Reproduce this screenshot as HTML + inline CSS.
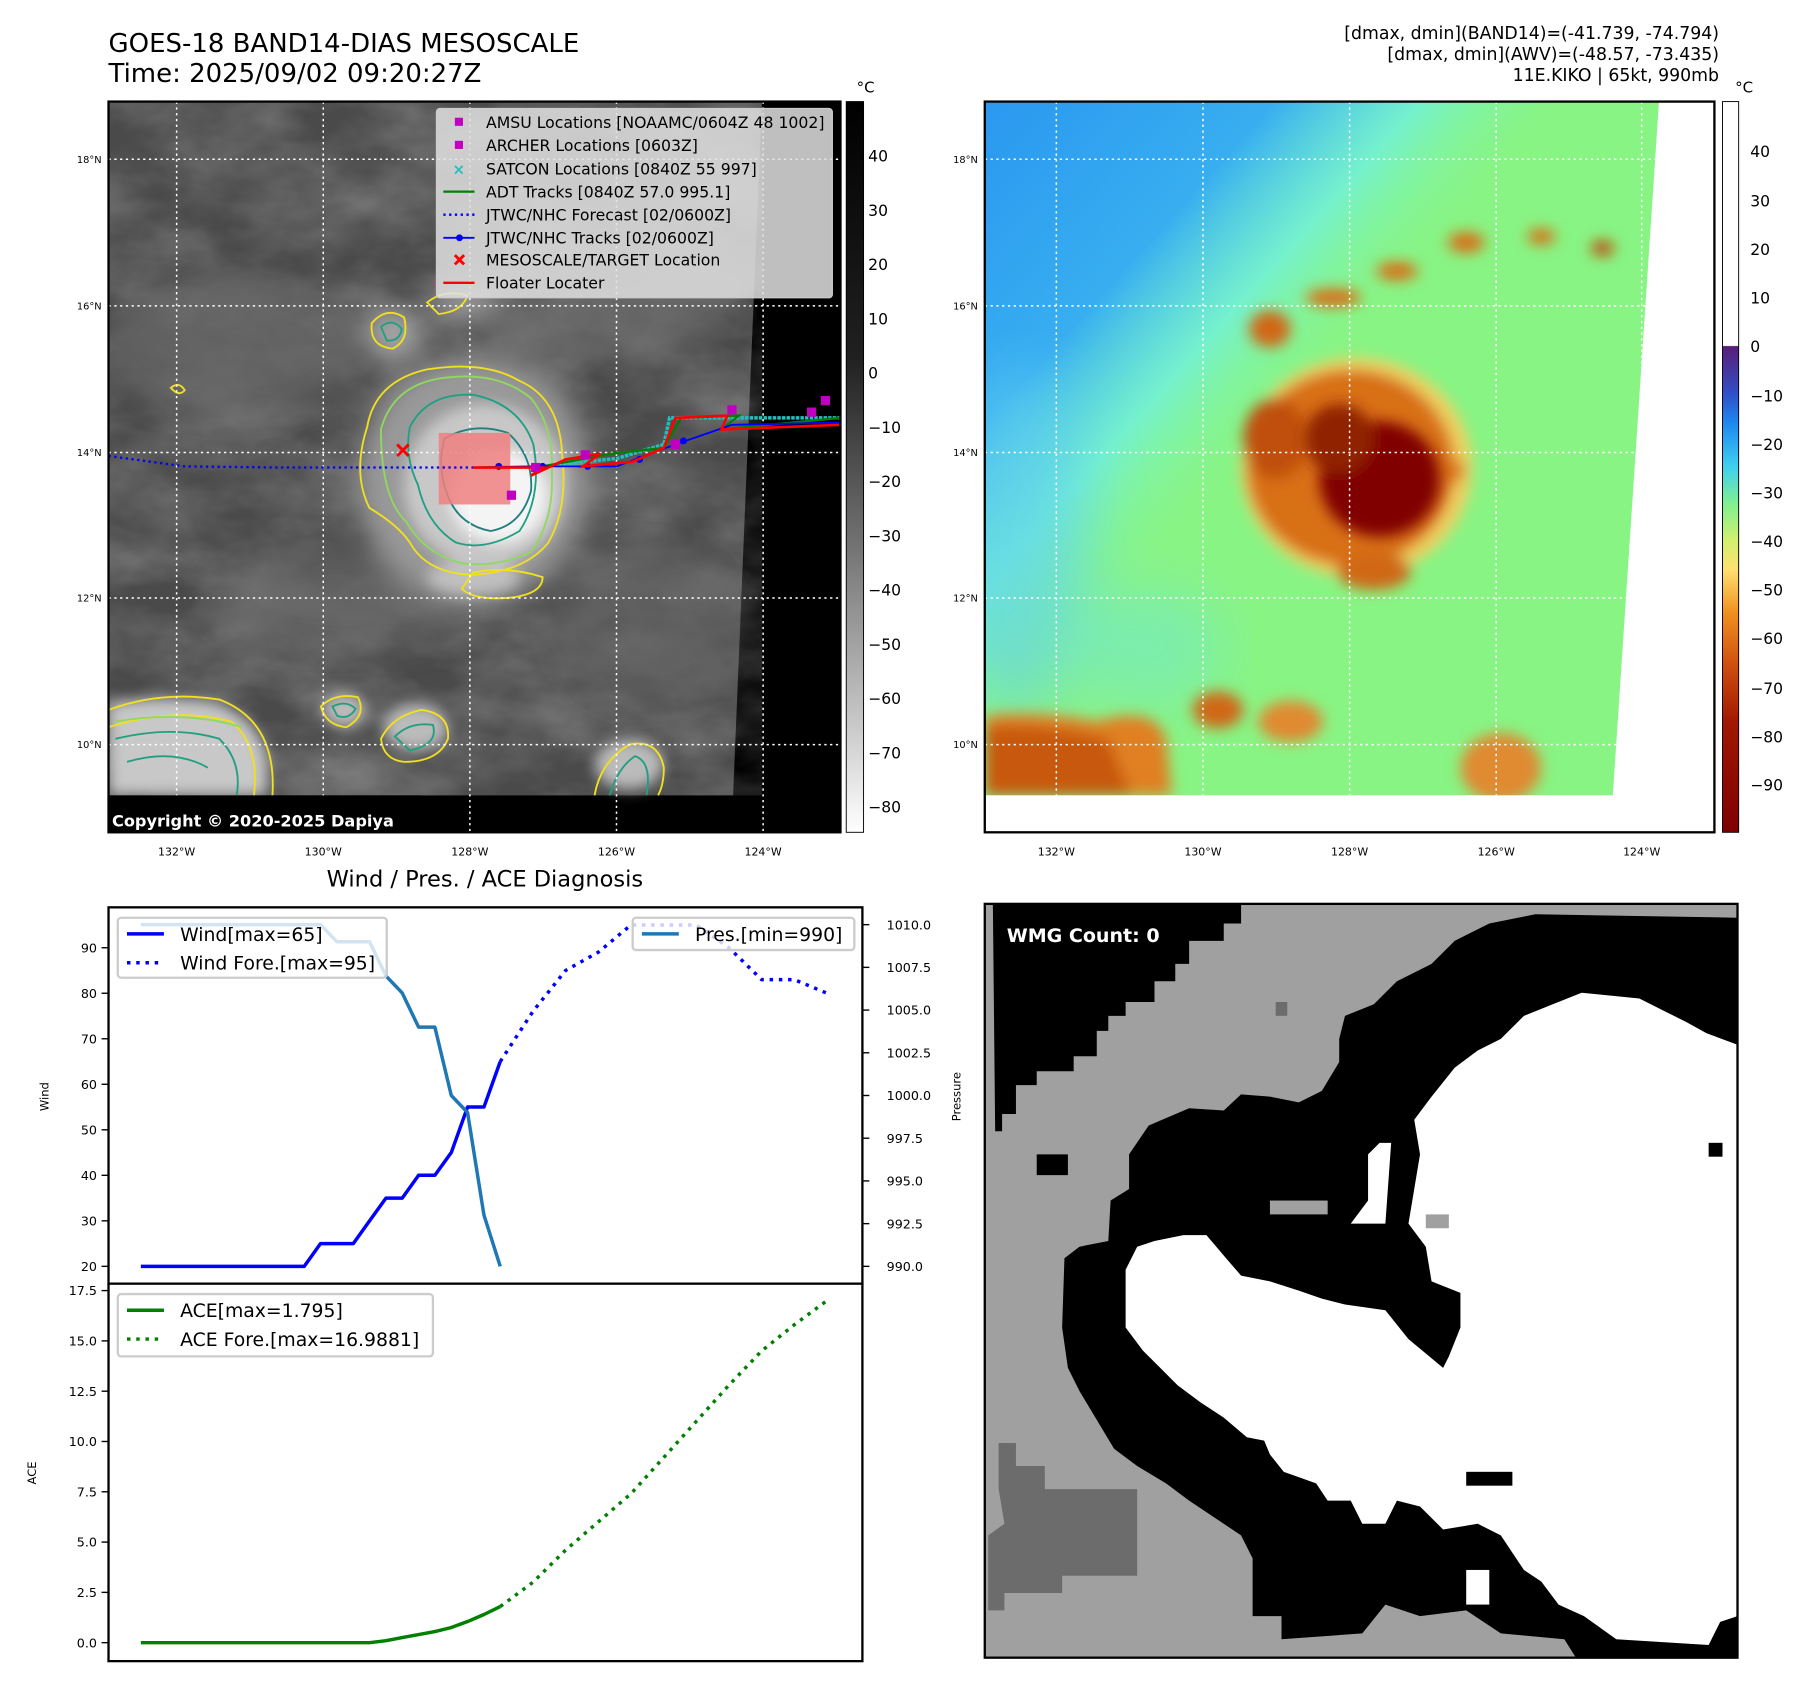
<!DOCTYPE html>
<html><head><meta charset="utf-8"><title>GOES-18 BAND14 Mesoscale</title>
<style>
html,body{margin:0;padding:0;background:#fff;}
svg{display:block;font-family:"DejaVu Sans","Liberation Sans",sans-serif;}
</style></head>
<body>
<svg id="root" width="1801" height="1690" viewBox="0 0 1560 1464" preserveAspectRatio="none" xmlns="http://www.w3.org/2000/svg">
<defs>
  <filter id="blur6"><feGaussianBlur stdDeviation="6"/></filter>
  <filter id="blur12"><feGaussianBlur stdDeviation="12"/></filter>
  <filter id="blur25"><feGaussianBlur stdDeviation="25"/></filter>
  <filter id="noise" x="0" y="0" width="100%" height="100%">
    <feTurbulence type="fractalNoise" baseFrequency="0.012 0.02" numOctaves="4" seed="7"/>
    <feColorMatrix type="matrix" values="0 0 0 0 0.75  0 0 0 0 0.75  0 0 0 0 0.75  0.9 0 0 0 -0.25"/>
  </filter>
  <clipPath id="clip1"><rect x="94" y="88" width="634" height="633"/></clipPath>
  <clipPath id="clip2"><polygon points="853,88 1437,88 1397,689 853,689"/></clipPath>
  <clipPath id="clipW"><rect x="853" y="783" width="652" height="653"/></clipPath>
  <linearGradient id="cbGray" x1="0" y1="0" x2="0" y2="1">
    <stop offset="0" stop-color="#000"/><stop offset="0.35" stop-color="#202020"/>
    <stop offset="0.6" stop-color="#707070"/><stop offset="0.85" stop-color="#c8c8c8"/><stop offset="1" stop-color="#fff"/>
  </linearGradient>
  <linearGradient id="cbJet" x1="0" y1="0" x2="0" y2="1">
    <stop offset="0" stop-color="#fff"/><stop offset="0.334" stop-color="#fff"/>
    <stop offset="0.335" stop-color="#5a1e78"/><stop offset="0.4" stop-color="#3050c8"/>
    <stop offset="0.44" stop-color="#1e88f0"/><stop offset="0.5" stop-color="#40d0f0"/>
    <stop offset="0.55" stop-color="#80f090"/><stop offset="0.6" stop-color="#d0f070"/>
    <stop offset="0.64" stop-color="#ffe070"/><stop offset="0.7" stop-color="#f09020"/>
    <stop offset="0.77" stop-color="#d05010"/><stop offset="0.85" stop-color="#a01800"/>
    <stop offset="1" stop-color="#800000"/>
  </linearGradient>
  <linearGradient id="skyBlue" x1="0" y1="0" x2="1" y2="0.9">
    <stop offset="0" stop-color="#2a98f0"/><stop offset="0.22" stop-color="#38aef0"/>
    <stop offset="0.33" stop-color="#70f0e0" stop-opacity="0.8"/><stop offset="0.45" stop-color="#88f888" stop-opacity="0"/>
  </linearGradient>
</defs>

<!-- titles -->
<text x="94" y="45" font-size="22.5">GOES-18 BAND14-DIAS MESOSCALE</text>
<text x="94" y="71" font-size="22.5">Time: 2025/09/02 09:20:27Z</text>
<text x="1489" y="34" font-size="15" text-anchor="end">[dmax, dmin](BAND14)=(-41.739, -74.794)</text>
<text x="1489" y="52" font-size="15" text-anchor="end">[dmax, dmin](AWV)=(-48.57, -73.435)</text>
<text x="1489" y="70" font-size="15" text-anchor="end">11E.KIKO | 65kt, 990mb</text>

<!-- MAP 1 -->
<g>
  <g clip-path="url(#clip1)">
    <rect x="94" y="88" width="634" height="633" fill="#000"/>
    <polygon points="94,88 660,88 635,689 94,689" fill="#4a4a4a"/>
    <g clip-path="url(#clip1)">
      <polygon points="94,88 660,88 635,689 94,689" fill="#000" filter="url(#noise)" opacity="0.55"/>
    </g>
    <g filter="url(#blur12)">
      <ellipse cx="200" cy="300" rx="110" ry="60" fill="#6a6a6a" opacity="0.7"/>
      <ellipse cx="520" cy="250" rx="120" ry="60" fill="#707070" opacity="0.6"/>
      <ellipse cx="300" cy="520" rx="120" ry="45" fill="#6a6a6a" opacity="0.6"/>
      <ellipse cx="560" cy="540" rx="80" ry="70" fill="#666" opacity="0.6"/>
      <ellipse cx="410" cy="415" rx="100" ry="108" fill="#9a9a9a"/>
      <ellipse cx="340" cy="290" rx="22" ry="22" fill="#aaa"/>
      <ellipse cx="400" cy="262" rx="30" ry="10" fill="#aaa"/>
    </g>
    <g filter="url(#blur6)">
      <ellipse cx="420" cy="420" rx="70" ry="70" fill="#c8c8c8"/>
      <ellipse cx="432" cy="430" rx="42" ry="40" fill="#f4f4f4"/>
      <ellipse cx="410" cy="500" rx="40" ry="15" fill="#c0c0c0"/>
      <path d="M94,610 Q140,600 190,610 Q240,630 230,689 L94,689 Z" fill="#c8c8c8"/>
      <ellipse cx="360" cy="630" rx="28" ry="20" fill="#bbb"/>
      <ellipse cx="298" cy="615" rx="18" ry="15" fill="#bbb"/>
      <ellipse cx="545" cy="662" rx="30" ry="22" fill="#bbb"/>
    </g>
    <g fill="none" stroke-width="1.6">
      <path d="M318,370 Q325,330 370,320 Q420,312 450,330 Q485,345 487,395 Q492,440 475,470 Q455,495 410,498 Q370,497 355,470 Q345,455 320,440 Q305,410 318,370 Z" stroke="#f0e020"/>
      <path d="M330,372 Q340,335 380,328 Q430,320 460,345 Q480,370 478,410 Q480,450 460,478 Q430,492 400,488 Q368,480 352,452 Q330,432 330,372 Z" stroke="#90d860"/>
      <path d="M355,370 Q370,340 410,342 Q450,350 462,385 Q470,430 450,460 Q420,478 395,470 Q370,455 362,420 Q350,395 355,370 Z" stroke="#20a080"/>
      <path d="M385,380 Q410,365 440,375 Q462,395 460,425 Q452,455 425,460 Q398,455 388,430 Q378,405 385,380 Z" stroke="#208080"/>
      <path d="M410,496 Q440,490 470,500 Q470,515 440,518 Q410,520 400,510 Z" stroke="#f0e020"/>
      <path d="M322,280 Q335,265 350,275 Q355,295 340,302 Q320,300 322,280 Z" stroke="#f0e020"/>
      <path d="M330,283 Q340,275 348,285 Q346,296 335,295 Z" stroke="#20a080"/>
      <path d="M370,262 Q385,250 405,256 Q400,270 380,272 Z" stroke="#f0e020"/>
      <path d="M94,615 Q140,598 190,606 Q240,625 236,689 M94,630 Q150,612 200,625 Q225,645 220,689" stroke="#f0e020"/>
      <path d="M100,640 Q150,628 190,640 Q210,660 205,689 M110,660 Q150,648 180,665" stroke="#20a080"/>
      <path d="M100,625 Q160,615 210,630" stroke="#90d860"/>
      <path d="M330,640 Q340,620 365,615 Q390,618 388,640 Q380,660 350,660 Q332,658 330,640 Z" stroke="#f0e020"/>
      <path d="M342,638 Q355,625 375,628 Q380,645 355,650 Z" stroke="#20a080"/>
      <path d="M278,612 Q290,600 310,604 Q318,620 300,630 Q282,628 278,612 Z" stroke="#f0e020"/>
      <path d="M288,612 Q300,606 308,614 Q302,624 292,620 Z" stroke="#20a080"/>
      <path d="M515,689 Q520,660 545,645 Q570,640 575,665 Q575,680 570,689" stroke="#f0e020"/>
      <path d="M528,689 Q535,665 550,655 Q565,660 560,689" stroke="#20a080"/>
      <path d="M148,336 Q155,330 160,338 Q155,344 148,336 Z" stroke="#f0e020"/>
    </g>
    <g stroke="#fff" stroke-width="1.3" stroke-dasharray="2,3">
      <line x1="153" y1="88" x2="153" y2="721"/><line x1="280" y1="88" x2="280" y2="721"/>
      <line x1="407" y1="88" x2="407" y2="721"/><line x1="534" y1="88" x2="534" y2="721"/>
      <line x1="661" y1="88" x2="661" y2="721"/>
      <line x1="94" y1="138" x2="728" y2="138"/><line x1="94" y1="265" x2="728" y2="265"/>
      <line x1="94" y1="392" x2="728" y2="392"/><line x1="94" y1="518" x2="728" y2="518"/>
      <line x1="94" y1="645" x2="728" y2="645"/>
    </g>
    <rect x="380" y="375" width="62" height="62" fill="#f08080" opacity="0.85"/>
    <polyline points="94,395 160,404 240,405 330,405 410,405" fill="none" stroke="#0000ff" stroke-width="2" stroke-dasharray="2,3"/>
    <polyline points="470,404 535,397 575,385 580,362 640,362 728,362" fill="none" stroke="#20c0c0" stroke-width="3" stroke-dasharray="3,1"/>
    <polyline points="410,405 470,404 530,393 575,388 590,362 640,360 625,372 728,362" fill="none" stroke="#008000" stroke-width="2"/>
    <polyline points="410,405 470,404 534,404 585,385 634,368 728,366" fill="none" stroke="#0000ff" stroke-width="1.6"/>
    <g fill="#0000ff"><circle cx="432" cy="404" r="3"/><circle cx="470" cy="404" r="3"/><circle cx="509" cy="404" r="3"/><circle cx="554" cy="398" r="3"/><circle cx="592" cy="382" r="3"/></g>
    <polyline points="410,405 470,405 460,412 490,398 520,393 505,404 548,400 575,388 585,362 630,360 625,372 728,368" fill="none" stroke="#ff0000" stroke-width="2.3"/>
    <g fill="#c000c0"><rect x="439" y="425" width="8" height="8"/><rect x="630" y="351" width="8" height="8"/><rect x="711" y="343" width="8" height="8"/><rect x="699" y="353" width="8" height="8"/><rect x="503" y="390" width="8" height="8"/><rect x="581" y="381" width="8" height="8"/><rect x="460" y="401" width="8" height="8"/></g>
    <g stroke="#ff0000" stroke-width="2.5"><line x1="344" y1="385" x2="354" y2="395"/><line x1="354" y1="385" x2="344" y2="395"/></g>
    <rect x="94" y="689" width="270" height="32" fill="#000"/>
  </g>
  <rect x="94" y="88" width="634" height="633" fill="none" stroke="#000" stroke-width="2"/>
  <text x="97" y="716" font-size="14" font-weight="bold" fill="#fff">Copyright © 2020-2025 Dapiya</text>
  <g>
    <rect x="378" y="94" width="343" height="164" rx="3" fill="#e0e0e0" fill-opacity="0.85" stroke="#ccc"/>
    <rect x="394" y="102" width="7" height="7" fill="#c000c0"/>
    <text x="421" y="111" font-size="13.6">AMSU Locations [NOAAMC/0604Z 48 1002]</text>
    <rect x="394" y="122" width="7" height="7" fill="#c000c0"/>
    <text x="421" y="131" font-size="13.6">ARCHER Locations [0603Z]</text>
    <text x="392" y="151" font-size="13" fill="#20c0c0" font-weight="bold">×</text>
    <text x="421" y="151" font-size="13.6">SATCON Locations [0840Z 55 997]</text>
    <line x1="384" y1="166" x2="411" y2="166" stroke="#008000" stroke-width="2"/>
    <text x="421" y="171" font-size="13.6">ADT Tracks [0840Z 57.0 995.1]</text>
    <line x1="384" y1="186" x2="411" y2="186" stroke="#0000ff" stroke-width="2" stroke-dasharray="2,3"/>
    <text x="421" y="191" font-size="13.6">JTWC/NHC Forecast [02/0600Z]</text>
    <line x1="384" y1="206" x2="411" y2="206" stroke="#0000ff" stroke-width="1.6"/><circle cx="398" cy="206" r="3" fill="#0000ff"/>
    <text x="421" y="211" font-size="13.6">JTWC/NHC Tracks [02/0600Z]</text>
    <g stroke="#ff0000" stroke-width="2.5"><line x1="394" y1="221" x2="402" y2="229"/><line x1="402" y1="221" x2="394" y2="229"/></g>
    <text x="421" y="230" font-size="13.6">MESOSCALE/TARGET Location</text>
    <line x1="384" y1="245" x2="411" y2="245" stroke="#ff0000" stroke-width="2"/>
    <text x="421" y="250" font-size="13.6">Floater Locater</text>
  </g>
  <rect x="733" y="88" width="15" height="633" fill="url(#cbGray)" stroke="#000" stroke-width="0.8"/>
  <text x="742" y="80" font-size="13">°C</text>
  <g font-size="13.5">
    <text x="752" y="140">40</text><text x="752" y="187">30</text><text x="752" y="234">20</text><text x="752" y="281">10</text>
    <text x="752" y="328">0</text><text x="752" y="375">−10</text><text x="752" y="422">−20</text><text x="752" y="469">−30</text>
    <text x="752" y="516">−40</text><text x="752" y="563">−50</text><text x="752" y="610">−60</text><text x="752" y="657">−70</text><text x="752" y="704">−80</text>
  </g>
  <g font-size="8.5" text-anchor="end">
    <text x="88" y="141">18°N</text><text x="88" y="268">16°N</text><text x="88" y="395">14°N</text><text x="88" y="521">12°N</text><text x="88" y="648">10°N</text>
  </g>
  <g font-size="9.5" text-anchor="middle">
    <text x="153" y="741">132°W</text><text x="280" y="741">130°W</text><text x="407" y="741">128°W</text><text x="534" y="741">126°W</text><text x="661" y="741">124°W</text>
  </g>
</g>

<!-- MAP 2 -->
<g>
  <rect x="853" y="88" width="632" height="633" fill="#fff"/>
  <g clip-path="url(#clip2)">
    <rect x="853" y="88" width="632" height="633" fill="#88f484"/>
    <rect x="853" y="88" width="632" height="633" fill="url(#skyBlue)"/>
    <g filter="url(#blur25)">
      <ellipse cx="880" cy="470" rx="60" ry="150" fill="#60d0f0" opacity="0.6"/>
      <ellipse cx="990" cy="560" rx="70" ry="50" fill="#70e8d8" opacity="0.5"/>
    </g>
    <g filter="url(#blur6)">
      <ellipse cx="1175" cy="405" rx="100" ry="95" fill="#f0d060"/>
      <ellipse cx="1170" cy="405" rx="90" ry="85" fill="#d87018"/>
      <ellipse cx="1105" cy="380" rx="28" ry="35" fill="#c05010"/>
      <ellipse cx="1190" cy="495" rx="32" ry="16" fill="#d06818"/>
      <ellipse cx="1100" cy="285" rx="18" ry="16" fill="#d06818"/>
      <ellipse cx="1155" cy="258" rx="24" ry="8" fill="#d87018"/>
      <ellipse cx="1210" cy="235" rx="18" ry="8" fill="#d87018"/>
      <ellipse cx="1270" cy="210" rx="16" ry="9" fill="#d87018"/>
      <ellipse cx="1335" cy="205" rx="12" ry="7" fill="#d87018"/>
      <ellipse cx="1388" cy="215" rx="10" ry="7" fill="#c05010"/>
      <ellipse cx="1260" cy="408" rx="8" ry="10" fill="#d87018"/>
      <path d="M853,620 Q900,615 950,625 Q1000,610 1010,640 L1015,689 L853,689 Z" fill="#e08020"/>
      <path d="M853,630 Q900,625 960,640 L980,689 L853,689 Z" fill="#c85810"/>
      <ellipse cx="1055" cy="615" rx="22" ry="16" fill="#d06818"/>
      <ellipse cx="1118" cy="625" rx="28" ry="18" fill="#e08a30"/>
      <ellipse cx="1300" cy="665" rx="35" ry="30" fill="#e08a30"/>
    </g>
    <g filter="url(#blur6)"><ellipse cx="1195" cy="415" rx="52" ry="50" fill="#800000"/><ellipse cx="1160" cy="380" rx="30" ry="30" fill="#902000"/></g>
    <g stroke="#fff" stroke-width="1.3" stroke-dasharray="2,3">
      <line x1="915" y1="88" x2="915" y2="721"/><line x1="1042" y1="88" x2="1042" y2="721"/>
      <line x1="1169" y1="88" x2="1169" y2="721"/><line x1="1296" y1="88" x2="1296" y2="721"/>
      <line x1="1422" y1="88" x2="1422" y2="721"/>
      <line x1="853" y1="138" x2="1485" y2="138"/><line x1="853" y1="265" x2="1485" y2="265"/>
      <line x1="853" y1="392" x2="1485" y2="392"/><line x1="853" y1="518" x2="1485" y2="518"/>
      <line x1="853" y1="645" x2="1485" y2="645"/>
    </g>
  </g>
  <rect x="853" y="88" width="632" height="633" fill="none" stroke="#000" stroke-width="2"/>
  <rect x="1492" y="88" width="14" height="633" fill="url(#cbJet)" stroke="#000" stroke-width="0.8"/>
  <text x="1503" y="80" font-size="13">°C</text>
  <g font-size="13.5">
    <text x="1516" y="136">40</text><text x="1516" y="179">30</text><text x="1516" y="221">20</text><text x="1516" y="263">10</text>
    <text x="1516" y="305">0</text><text x="1516" y="348">−10</text><text x="1516" y="390">−20</text><text x="1516" y="432">−30</text>
    <text x="1516" y="474">−40</text><text x="1516" y="516">−50</text><text x="1516" y="558">−60</text><text x="1516" y="601">−70</text>
    <text x="1516" y="643">−80</text><text x="1516" y="685">−90</text>
  </g>
  <g font-size="8.5" text-anchor="end">
    <text x="847" y="141">18°N</text><text x="847" y="268">16°N</text><text x="847" y="395">14°N</text><text x="847" y="521">12°N</text><text x="847" y="648">10°N</text>
  </g>
  <g font-size="9.5" text-anchor="middle">
    <text x="915" y="741">132°W</text><text x="1042" y="741">130°W</text><text x="1169" y="741">128°W</text><text x="1296" y="741">126°W</text><text x="1422" y="741">124°W</text>
  </g>
</g>

<!-- CHARTS -->
<text x="420" y="768" font-size="19.5" text-anchor="middle">Wind / Pres. / ACE Diagnosis</text>
<g id="charts"></g>

<!-- WMG panel -->
<g>
  <g clip-path="url(#clipW)">
    <rect x="853" y="783" width="652" height="653" fill="#a0a0a0"/>
    <path d="M860,783 L1075,783 L1075,800 L1060,800 L1060,815 L1030,815 L1030,835 L1018,835 L1018,850 L1000,850 L1000,868 L975,868 L975,880 L960,880 L960,893 L950,893 L950,915 L930,915 L930,928 L898,928 L898,940 L880,940 L880,965 L868,965 L868,980 L862,980 Z M898,1000 L925,1000 L925,1018 L898,1018 Z" fill="#000"/>
    <path d="M1160,900 L1165,880 L1190,870 L1210,850 L1240,835 L1260,815 L1290,800 L1330,792 L1505,795 L1505,1436 L1365,1436 L1355,1420 L1300,1415 L1270,1395 L1230,1400 L1200,1390 L1180,1415 L1110,1420 L1110,1400 L1085,1400 L1085,1350 L1075,1330 L1060,1320 L1030,1300 L1010,1285 L985,1270 L965,1255 L950,1230 L935,1205 L925,1185 L920,1150 L922,1090 L935,1080 L960,1075 L962,1040 L978,1030 L978,1000 L995,975 L1030,960 L1060,962 L1075,948 L1100,950 L1125,955 L1145,945 L1160,920 Z" fill="#000"/>
    <path d="M1225,970 L1240,950 L1260,925 L1280,910 L1300,900 L1320,880 L1345,870 L1370,860 L1420,865 L1440,875 L1460,885 L1478,895 L1505,905 L1505,1400 L1490,1405 L1480,1425 L1400,1420 L1372,1400 L1350,1390 L1335,1370 L1320,1360 L1300,1330 L1280,1320 L1250,1325 L1230,1305 L1210,1300 L1200,1320 L1180,1320 L1170,1300 L1150,1300 L1140,1285 L1112,1275 L1100,1260 L1095,1248 L1080,1245 L1060,1228 L1040,1215 L1020,1200 L1005,1185 L990,1170 L975,1150 L975,1100 L985,1080 L1000,1075 L1025,1070 L1045,1070 L1062,1090 L1075,1105 L1100,1110 L1125,1118 L1145,1125 L1165,1130 L1200,1135 L1220,1160 L1250,1185 L1255,1175 L1265,1150 L1265,1120 L1240,1110 L1235,1080 L1220,1060 L1225,1030 L1230,1000 Z" fill="#fff"/>
    <path d="M1170,1060 L1185,1040 L1185,1000 L1195,990 L1205,990 L1200,1060 Z" fill="#fff"/>
    <rect x="1100" y="1040" width="50" height="12" fill="#a0a0a0"/>
    <rect x="1235" y="1052" width="20" height="12" fill="#a0a0a0"/>
    <rect x="1270" y="1275" width="40" height="12" fill="#000"/>
    <rect x="1480" y="990" width="12" height="12" fill="#000"/>
    <rect x="1270" y="1360" width="20" height="30" fill="#fff"/>
    <path d="M865,1250 L880,1250 L880,1270 L905,1270 L905,1290 L985,1290 L985,1365 L920,1365 L920,1380 L870,1380 L870,1395 L856,1395 L856,1330 L870,1320 L865,1290 Z" fill="#6c6c6c"/>
    <rect x="1105" y="868" width="10" height="12" fill="#6c6c6c"/>
  </g>
  <rect x="853" y="783" width="652" height="653" fill="none" stroke="#000" stroke-width="2"/>
  <rect x="864" y="793" width="165" height="30" rx="4" fill="#000"/>
  <text x="872" y="816" font-size="16.5" font-weight="bold" fill="#fff">WMG Count: 0</text>
</g>

<script>
const windIdx = [0,1,2,3,4,5,6,7,8,9,10,11,12,13,14,15,16,17,18,19,20,21,22];
const windObs = [20,20,20,20,20,20,20,20,20,20,20,25,25,25,30,35,35,40,40,45,55,55,65];
const foreIdx = [22,24,26,28,30,32,34,36,38,40,42];
const windFore = [65,76,85,89,95,95,95,90,83,83,80];
const presObs = [1010,1010,1010,1010,1010,1010,1010,1010,1010,1010,1010,1010,1009,1009,1009,1007,1006,1004,1004,1000,999,993,990];
const aceObs = [0,0,0,0,0,0,0,0,0,0,0,0,0,0,0,0.1,0.25,0.4,0.55,0.75,1.05,1.4,1.795];
const aceFore = [1.795,3.0,4.6,6.0,7.4,9.2,11.0,12.8,14.5,15.8,17.0];
const windTicks = [20,30,40,50,60,70,80,90];
const presTicks = ["990.0","992.5","995.0","997.5","1000.0","1002.5","1005.0","1007.5","1010.0"];
const aceTicks = ["0.0","2.5","5.0","7.5","10.0","12.5","15.0","17.5"];

const NS = "http://www.w3.org/2000/svg";
const g = document.getElementById("charts");
function xS(i){ return 122 + i*14.15; }
function yW(v){ return 1097 - (v-20)*(276/70); }
function yP(p){ return 1097 - (p-990)*14.8; }
function yA(a){ return 1423 - a*(305/17.5); }
function mk(tag, attrs, parent){ const e=document.createElementNS(NS,tag); for(const k in attrs) e.setAttribute(k,attrs[k]); (parent||g).appendChild(e); return e; }
function txt(x,y,s,size,anchor,parent){ const e=mk("text",{x:x,y:y,"font-size":size,"text-anchor":anchor||"start"},parent); e.textContent=s; return e; }
function line(xs, ys, color, dotted, name){
  const pts = xs.map((x,k)=>x.toFixed(1)+","+ys[k].toFixed(1)).join(" ");
  const e = mk("polyline",{points:pts,fill:"none",stroke:color,"stroke-width":3,"stroke-linejoin":"round"});
  if(dotted) e.setAttribute("stroke-dasharray","3,5");
  
  
  return e;
}
const ax1 = mk("rect",{x:94,y:786,width:653,height:326,fill:"#fff",stroke:"#000","stroke-width":2});


const ax2 = mk("rect",{x:94,y:1112,width:653,height:327,fill:"#fff",stroke:"#000","stroke-width":2});


windTicks.forEach(v=>{ const y=yW(v); mk("line",{x1:88,y1:y,x2:94,y2:y,stroke:"#000","stroke-width":1.2}); const t=txt(84,y+4,String(v),11,"end");   });
presTicks.forEach(s=>{ const y=yP(parseFloat(s)); mk("line",{x1:747,y1:y,x2:753,y2:y,stroke:"#000","stroke-width":1.2}); const t=txt(768,y+4,s,11,"start");   });
aceTicks.forEach(s=>{ const y=yA(parseFloat(s)); mk("line",{x1:88,y1:y,x2:94,y2:y,stroke:"#000","stroke-width":1.2}); const t=txt(84,y+4,s,11,"end");   });
const wl = txt(0,0,"Wind",10,"middle"); wl.setAttribute("transform","translate(42,950) rotate(-90)");


const pl = txt(0,0,"Pressure",10,"middle"); pl.setAttribute("transform","translate(832,950) rotate(-90)");


const al = txt(0,0,"ACE",10,"middle"); al.setAttribute("transform","translate(31,1276) rotate(-90)");


line(windIdx.map(xS), windObs.map(yW), "#0000ff", false, "wind-line");
line(foreIdx.map(xS), windFore.map(yW), "#0000ff", true, "wind-forecast-line");
line(windIdx.map(xS), presObs.map(yP), "#1f77b4", false, "pressure-line");
line(windIdx.map(xS), aceObs.map(yA), "#008000", false, "ace-line");
line(foreIdx.map(xS), aceFore.map(yA), "#008000", true, "ace-forecast-line");
function legend(x,y,w,h,entries,name){
  const lg = mk("g",{});
  
  
  mk("rect",{x:x,y:y,width:w,height:h,rx:3,fill:"#fff","fill-opacity":0.8,stroke:"#ccc","stroke-width":2},lg);
  entries.forEach((en,k)=>{
    const cy = y+14+k*25;
    const l = mk("line",{x1:x+8,y1:cy,x2:x+40,y2:cy,stroke:en[1],"stroke-width":3},lg);
    if(en[2]) l.setAttribute("stroke-dasharray","3,5");
    txt(x+54,cy+6,en[0],16.3,"start",lg);
  });
}
legend(102,795,233,52,[["Wind[max=65]","#0000ff",false],["Wind Fore.[max=95]","#0000ff",true]],"wind-legend");
legend(548,795,192,28,[["Pres.[min=990]","#1f77b4",false]],"pressure-legend");
legend(102,1121,273,54,[["ACE[max=1.795]","#008000",false],["ACE Fore.[max=16.9881]","#008000",true]],"ace-legend");
</script>
</svg>
</body></html>
